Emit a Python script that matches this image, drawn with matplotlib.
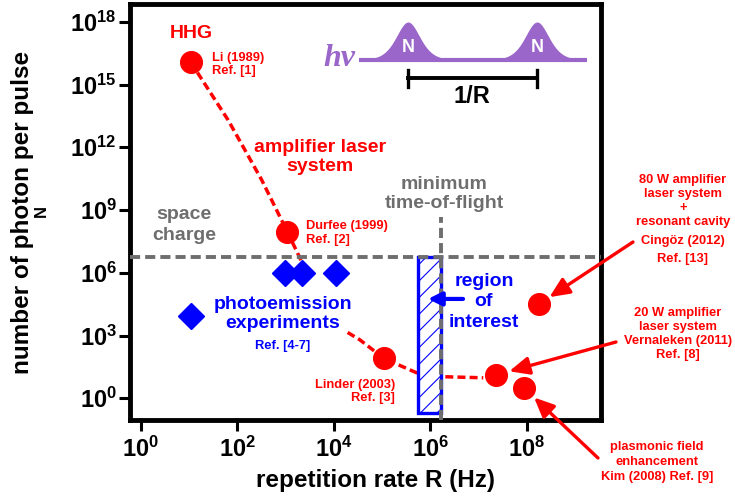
"""Photons per pulse against repetition rate for photoemission light sources."""

import matplotlib

matplotlib.use("Agg")

import matplotlib.pyplot as plt
import numpy as np
from matplotlib.patches import Rectangle
from matplotlib.ticker import FixedLocator, FuncFormatter, NullLocator

# red circles: Li, Durfee, Linder, Vernaleken, Kim, Cingoz
source_rate = [1.1e1, 1.1e3, 1.1e5, 2.3e7, 8.8e7, 1.8e8]
source_photons = [1.15e16, 9.0e7, 80.0, 13.0, 3.1, 3.2e4]

# blue diamonds: photoemission experiments
expt_rate = [1.1e1, 1.0e3, 2.2e3, 1.1e4]
expt_photons = [8.6e3, 1.0e6, 1.0e6, 1.0e6]

# dashed guide curves
amp_curve_rate = [11, 65, 324, 1.1e3, 2.1e3]
amp_curve_photons = [1.15e16, 2.0e13, 2.7e10, 9.0e7, 4.0e6]
osc_curve_rate = [1.95e4, 3.5e4, 1.1e5, 5.2e5, 1.9e6, 1.26e7]
osc_curve_photons = [1.4e3, 6.2e2, 80, 16.6, 10.7, 9.5]

space_charge_photons = 5.9e6
tof_rate = 1.65e6
tof_top = 4.6e8
roi_rate = [5.6e5, 1.65e6]
roi_photons = [0.2, 5.9e6]
roi_arrow_rate = [4.8e6, 9.0e5]
roi_arrow_photons = 5.6e4

x_ticks = [1e0, 1e2, 1e4, 1e6, 1e8]
y_ticks = [1e0, 1e3, 1e6, 1e9, 1e12, 1e15, 1e18]

RED = "#ff0000"
BLUE = "#0000ff"
GRAY = "#6e6e6e"
PURPLE = "#9b66c9"

plt.rcParams["font.family"] = "Liberation Sans"
plt.rcParams["font.weight"] = "bold"
plt.rcParams["mathtext.fontset"] = "custom"
plt.rcParams["mathtext.rm"] = "Liberation Sans:bold"
plt.rcParams["mathtext.bf"] = "Liberation Sans:bold"
plt.rcParams["hatch.linewidth"] = 0.8

W, H = 735, 497
fig = plt.figure(figsize=(W / 100, H / 100), dpi=100)
ax = fig.add_axes([130 / W, 1 - 420 / H, (601 - 130) / W, (420 - 4) / H])

ax.set_xscale("log")
ax.set_yscale("log")
ax.set_xlim(10 ** -0.22, 10 ** 9.54)
ax.set_ylim(10 ** -1.04, 10 ** 18.85)

# guide curves
ax.plot(amp_curve_rate, amp_curve_photons, color=RED, lw=2.5, dashes=(2.3, 1.2), zorder=2)
ax.plot(osc_curve_rate, osc_curve_photons, color=RED, lw=2.5, dashes=(2.3, 1.2), zorder=2)

# region of interest
roi = Rectangle((roi_rate[0], roi_photons[0]), roi_rate[1] - roi_rate[0],
                roi_photons[1] - roi_photons[0], facecolor="white", edgecolor=BLUE,
                lw=2.4, hatch="//", zorder=3)
ax.add_patch(roi)

# space charge and minimum time-of-flight limits
ax.axhline(space_charge_photons, color=GRAY, lw=2.8, dashes=(2.6, 1.3), zorder=4)
ax.plot([tof_rate, tof_rate], [10 ** -1.04, tof_top], color=GRAY, lw=2.8,
        dashes=(2.6, 1.3), zorder=4)

ax.annotate("", xy=(roi_arrow_rate[1], roi_arrow_photons),
            xytext=(roi_arrow_rate[0], roi_arrow_photons),
            arrowprops=dict(arrowstyle="-|>", color=BLUE, lw=3, mutation_scale=20,
                            shrinkA=0, shrinkB=0), zorder=5)

ax.plot(expt_rate, expt_photons, "D", ms=13, color=BLUE, zorder=5)
ax.plot(source_rate, source_photons, "o", ms=15.6, color=RED, zorder=6)

ax.xaxis.set_major_locator(FixedLocator(x_ticks))
ax.yaxis.set_major_locator(FixedLocator(y_ticks))
ax.xaxis.set_minor_locator(NullLocator())
ax.yaxis.set_minor_locator(NullLocator())
fmt = FuncFormatter(lambda v, p: r"$\mathbf{10^{%d}}$" % round(np.log10(v)))
ax.xaxis.set_major_formatter(fmt)
ax.yaxis.set_major_formatter(fmt)
ax.tick_params(direction="out", length=8, width=2.2, labelsize=17)
ax.tick_params(axis="x", pad=4)
ax.tick_params(axis="y", pad=1.5)
for spine in ax.spines.values():
    spine.set_linewidth(3.5)

# overlay in pixel coordinates for labels and the pulse sketch
over = fig.add_axes([0, 0, 1, 1], zorder=3)
over.set_xlim(0, W)
over.set_ylim(H, 0)
over.axis("off")

over.text(376, 481, "repetition rate R (Hz)", fontsize=17.5, ha="center", va="center")
over.text(22.5, 212, "number of photon per pulse", fontsize=17.5, rotation=90,
          ha="center", va="center")
over.text(41, 211, "N", fontsize=12, rotation=90, ha="center", va="center")

small = 9.3
over.text(191, 33.5, "HHG", color=RED, fontsize=14, ha="center", va="center")
over.text(212, 64.5, "Li (1989)\nRef. [1]", color=RED, fontsize=small,
          ha="left", va="center", linespacing=1.2)
over.text(320, 157, "amplifier laser\nsystem", color=RED, fontsize=14,
          ha="center", va="center", linespacing=1.15)
over.text(306, 233, "Durfee (1999)\nRef. [2]", color=RED, fontsize=small,
          ha="left", va="center", linespacing=1.2)
over.text(184, 225, "space\ncharge", color=GRAY, fontsize=14,
          ha="center", va="center", linespacing=1.35)
over.text(444, 194, "minimum\ntime-of-flight", color=GRAY, fontsize=14,
          ha="center", va="center", linespacing=1.15)
over.text(283, 314, "photoemission\nexperiments", color=BLUE, fontsize=14,
          ha="center", va="center", linespacing=1.2)
over.text(283, 346, "Ref. [4-7]", color=BLUE, fontsize=small, ha="center", va="center")
over.text(484, 302, "region\nof\ninterest", color=BLUE, fontsize=14,
          ha="center", va="center", linespacing=1.3)
over.text(395, 391.5, "Linder (2003)\nRef. [3]", color=RED, fontsize=small,
          ha="right", va="center", linespacing=1.2, multialignment="right")

over.text(683, 201, "80 W amplifier\nlaser system\n+\nresonant cavity", color=RED,
          fontsize=small, ha="center", va="center", linespacing=1.2)
over.text(683, 250, "Cingöz (2012)\nRef. [13]", color=RED, fontsize=small,
          ha="center", va="center", linespacing=1.6)
over.text(678, 334, "20 W amplifier\nlaser system\nVernaleken (2011)\nRef. [8]",
          color=RED, fontsize=small, ha="center", va="center", linespacing=1.25)
over.text(657, 462, "plasmonic field\nenhancement\nKim (2008) Ref. [9]", color=RED,
          fontsize=small, ha="center", va="center", linespacing=1.35)

red_arrow = dict(arrowstyle="-|>,head_length=0.4,head_width=0.18", color=RED, lw=2.4,
                 mutation_scale=30, shrinkA=0)
for idx, tail, gap in [(5, (633, 242), 9), (3, (616, 342), 10), (4, (598, 458), 10)]:
    over.annotate("", xy=(source_rate[idx], source_photons[idx]), xycoords=ax.transData,
                  xytext=tail, textcoords="data",
                  arrowprops=dict(red_arrow, shrinkB=gap))

# pulse train sketch
pulse_centers = [408, 537]
xs = np.linspace(359, 587, 500)
pulse = sum(38 / np.cosh((xs - c) / 16) ** 2 for c in pulse_centers)
over.fill_between(xs, 60, 60 - pulse, color=PURPLE, lw=0)
over.plot([359, 587], [60, 60], color=PURPLE, lw=3, solid_capstyle="butt")
for c in pulse_centers:
    over.text(c, 48, "N", color="white", fontsize=13, ha="center", va="center")
over.plot(pulse_centers, [78, 78], color="black", lw=2.8)
for c in pulse_centers:
    over.plot([c, c], [70, 87], color="black", lw=2.4)
over.text(472, 96.5, "1/R", fontsize=17, ha="center", va="center")
over.text(339.5, 66, "hv", color=PURPLE, fontsize=23, family="Liberation Serif",
          style="italic", ha="center", va="baseline")

fig.savefig("out.png", dpi=100)
